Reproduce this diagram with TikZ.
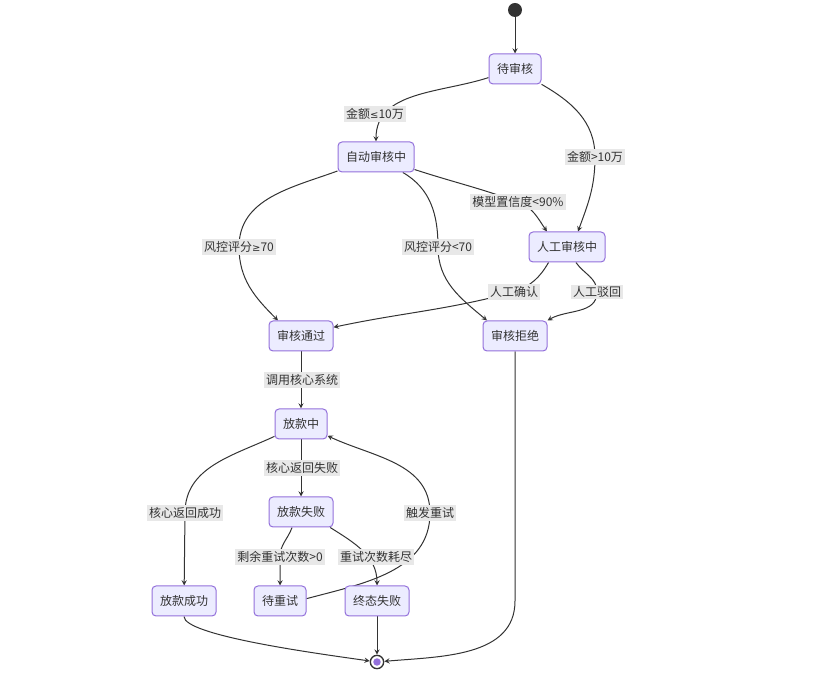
\documentclass[tikz,border=0pt]{standalone}
\usepackage{fontspec}
\setmainfont{Noto Sans CJK SC}
\newfontfamily\mathsym{DejaVu Sans}
\usetikzlibrary{arrows,positioning,calc,backgrounds}
\definecolor{statefill}{HTML}{ECECFF}
\definecolor{statedraw}{HTML}{9370DB}
\definecolor{linegray}{HTML}{333333}
\definecolor{lblfill}{HTML}{E8E8E8}
\newcommand{\lesym}{{\mathsym\fontsize{7.5}{9}\selectfont ≤}}
\newcommand{\gesym}{{\mathsym\fontsize{7.5}{9}\selectfont ≥}}
\tikzset{
statebox/.style={rectangle,rounded corners=3pt,draw=statedraw,fill=statefill,line width=0.75pt,
  inner xsep=6pt,minimum height=22.5pt,font=\fontsize{9}{11}\selectfont,text=linegray},
edgelbl/.style={rectangle,fill=lblfill,inner sep=1.5pt,font=\fontsize{9}{11}\selectfont,text=linegray},
flowarr/.style={->,>=stealth,draw=linegray,line width=0.75pt},
startdot/.style={circle,fill=linegray,minimum size=10.5pt,inner sep=0pt},
stopdot/.style={circle,draw=linegray,line width=1pt,fill=white,minimum size=10pt,inner sep=0pt,
  path picture={\fill[statedraw] (path picture bounding box.center) circle (2.8pt);}}
}
\begin{document}
\begin{tikzpicture}[x=0.75pt,y=0.75pt]
\useasboundingbox (0,0) rectangle (819,-673);
\node[startdot] (start) at (515,-10) {};
\node[statebox] (pend) at (515,-69) {待审核};
\node[statebox] (autorev) at (376,-157) {自动审核中};
\node[statebox] (manrev) at (567,-247) {人工审核中};
\node[statebox] (passed) at (301,-336) {审核通过};
\node[statebox] (rejected) at (515,-336) {审核拒绝};
\node[statebox] (paying) at (301,-424) {放款中};
\node[statebox] (payfail) at (301,-512) {放款失败};
\node[statebox] (paid) at (184,-601) {放款成功};
\node[statebox] (retry) at (280,-601) {待重试};
\node[statebox] (endfail) at (377,-601) {终态失败};
\node[stopdot] (stop) at (377,-662) {};
\node[edgelbl] (l1) at (375,-114) {金额\lesym10万};
\node[edgelbl] (l2) at (595,-157) {金额>10万};
\node[edgelbl] (l3) at (518,-202) {模型置信度<90\%};
\node[edgelbl] (l4) at (239,-247) {风控评分\gesym70};
\node[edgelbl] (l5) at (438,-247) {风控评分<70};
\node[edgelbl] (l6) at (514,-292) {人工确认};
\node[edgelbl] (l7) at (597,-292) {人工驳回};
\node[edgelbl] (l8) at (302,-380) {调用核心系统};
\node[edgelbl] (l9) at (302,-468) {核心返回失败};
\node[edgelbl] (l10) at (185,-513) {核心返回成功};
\node[edgelbl] (l11) at (430,-513) {触发重试};
\node[edgelbl] (l12) at (280,-557) {剩余重试次数>0};
\node[edgelbl] (l13) at (376,-557) {重试次数耗尽};
\begin{scope}[on background layer]
\draw[flowarr] (start) -- (pend);
\draw[flowarr] (pend) to[out=198,in=90] (autorev);
\draw[flowarr] (pend) to[out=-30,in=90] (l2.center) to[out=-90,in=70] ($(manrev.north)+(11,0)$);
\draw[flowarr] (autorev) to[out=-18,in=160] (l3.center) to[out=-20,in=125] ($(manrev.north)+(-20,0)$);
\draw[flowarr] (autorev) to[out=200,in=90] (l4.center) to[out=-90,in=135] ($(passed.north)+(-23,0)$);
\draw[flowarr] (autorev) to[out=-30,in=90] (l5.center) to[out=-90,in=140] ($(rejected.north)+(-28,0)$);
\draw[flowarr] (manrev.220) to[out=240,in=20] (l6.center) to[out=195,in=12] (passed.15);
\draw[flowarr] (manrev.-60) to[out=-55,in=90] (l7.center) to[out=-90,in=30] (rejected.north east);
\draw[flowarr] (passed) -- (paying);
\draw[flowarr] (paying) -- (payfail);
\draw[flowarr] (paying) to[out=205,in=90] (l10.center) -- (paid);
\draw[flowarr] (retry.5) to[out=15,in=-90] (l11.center) to[out=90,in=-25] (paying.-24);
\draw[flowarr] (payfail.240) to[out=-110,in=90] (l12.center) -- (retry);
\draw[flowarr] (payfail.-28) to[out=-32,in=90] (endfail);
\draw[flowarr] (paid) to[out=-90,in=172,out looseness=0.25,in looseness=0.8] (stop);
\draw[flowarr] (endfail) -- (stop);
\draw[flowarr] (rejected) -- ++(0,-265) to[out=-90,in=5] (stop);
\end{scope}
\end{tikzpicture}
\end{document}
